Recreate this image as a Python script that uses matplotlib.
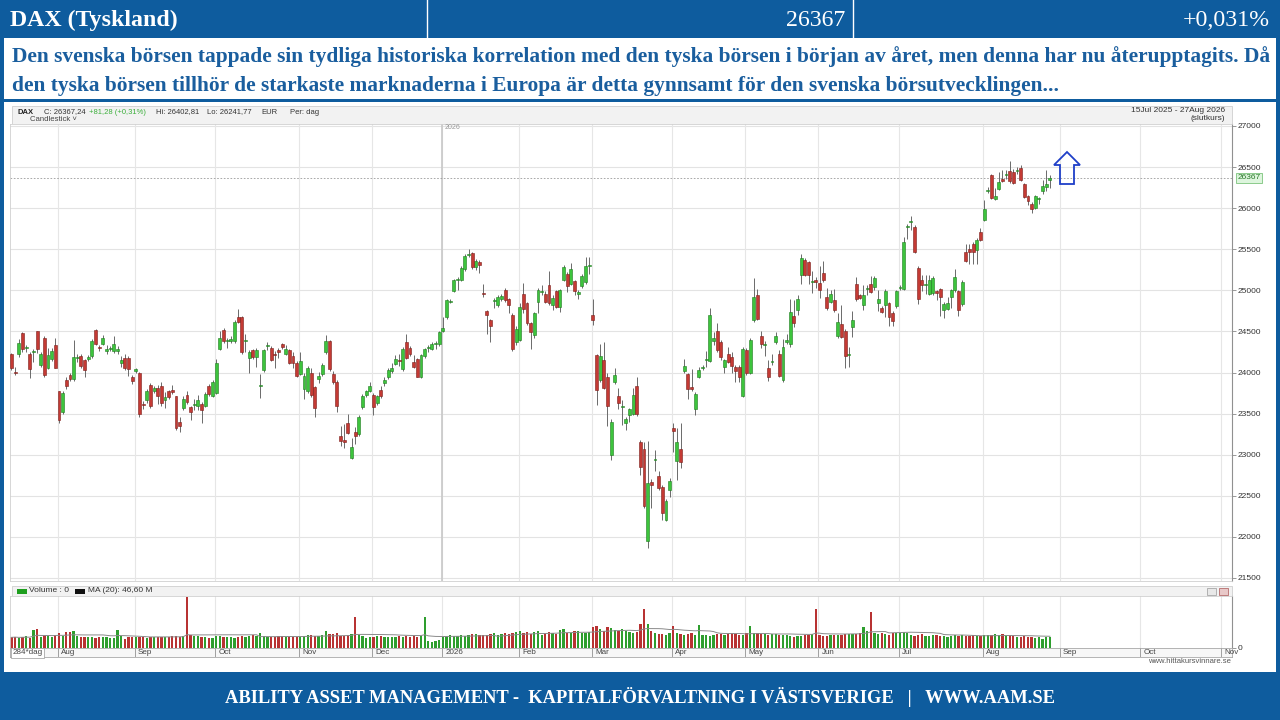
import numpy as np
import pandas as pd
import matplotlib
matplotlib.use("Agg")
import matplotlib.pyplot as plt
from matplotlib.patches import Rectangle, Polygon

# ---------------- data ----------------
opens = [24220, 24010, 24220, 24480, 24300, 24230, 24250, 24500, 24090, 24420,
         24060, 24170, 24340, 23775, 23525, 23910, 23970, 23920, 24180, 24200,
         24150, 24160, 24200, 24520, 24310, 24350, 24260, 24290, 24260, 24260,
         24120, 24180, 24180, 23950, 24020, 24000, 23610, 23670, 23850, 23770,
         23810, 23840, 23660, 23770, 23790, 23710, 23400, 23565, 23730, 23575,
         23610, 23595, 23615, 23595, 23840, 23720, 23755, 24285, 24520, 24380,
         24380, 24380, 24680, 24675, 24380, 24175, 24270, 24185, 23840, 24030,
         24320, 24300, 24220, 24275, 24345, 24230, 24270, 24195, 24120, 23985,
         23800, 23770, 23990, 23820, 23920, 23985, 24245, 24380, 23985, 23890,
         23230, 23180, 23380, 22955, 23280, 23250, 23585, 23730, 23775, 23730,
         23635, 23790, 23870, 23945, 24020, 24100, 24150, 24045, 24370, 24300,
         24130, 24160, 23945, 24200, 24300, 24290, 24350, 24345, 24510, 24670,
         24860, 24995, 25130, 25125, 25255, 25430, 25450, 25280, 25350, 24965,
         24750, 24640, 24870, 24820, 24890, 25010, 24890, 24700, 24370, 24390,
         24960, 24845, 24600, 24455, 24860, 24975, 24960, 25060, 24820, 24990,
         24800, 25130, 25200, 25080, 25110, 24955, 25050, 25100, 25300, 24695,
         24210, 23905, 24150, 23945, 23000, 23890, 23715, 23580, 23380, 23480,
         23500, 23835, 23160, 23075, 21945, 22670, 22940, 22740, 22610, 22205,
         22570, 23320, 22925, 23065, 24020, 23980, 23825, 23550, 23950, 24060,
         24150, 24140, 24385, 24500, 24370, 24070, 24220, 24190, 24070, 24070,
         23710, 24270, 24000, 24635, 24940, 24440, 24340, 24050, 24130, 24370,
         24230, 23905, 24375, 24345, 24685, 24765, 25185, 25370, 25340, 25100,
         25130, 25085, 25205, 24915, 24860, 24880, 24440, 24590, 24505, 24210,
         24550, 25075, 24940, 24820, 25020, 25075, 25035, 24840, 24790, 24820,
         24840, 24725, 24810, 25030, 25020, 25775, 25830, 25770, 25275, 25120,
         25070, 24955, 24965, 24995, 25015, 24755, 24775, 24915, 25000, 24995,
         24830, 25465, 25505, 25560, 25485, 25710, 25860, 26205, 26400, 26115,
         26235, 26355, 26400, 26450, 26440, 26450, 26490, 26290, 26145, 26055,
         26005, 26110, 26210, 26255, 26345]
highs = [24240, 24070, 24410, 24490, 24330, 24250, 24290, 24510, 24250, 24440,
         24300, 24300, 24420, 23780, 23770, 23950, 23990, 24390, 24220, 24230,
         24170, 24210, 24410, 24530, 24340, 24460, 24330, 24320, 24440, 24320,
         24200, 24230, 24200, 23970, 24060, 24010, 23650, 23800, 23870, 23830,
         23850, 23890, 23760, 23790, 23850, 23720, 23460, 23710, 23780, 23590,
         23680, 23725, 23640, 23760, 23860, 23910, 24160, 24510, 24540, 24420,
         24440, 24640, 24770, 24690, 24470, 24280, 24290, 24300, 23980, 24290,
         24370, 24320, 24260, 24300, 24365, 24330, 24290, 24245, 24140, 24245,
         23990, 24080, 24050, 23840, 24010, 24110, 24455, 24400, 24020, 23910,
         23350, 23370, 23500, 23200, 23340, 23480, 23740, 23790, 23890, 23750,
         23730, 23830, 23950, 24050, 24120, 24210, 24225, 24310, 24470, 24320,
         24210, 24180, 24230, 24300, 24330, 24370, 24380, 24510, 24670, 24900,
         24890, 25140, 25160, 25290, 25440, 25500, 25470, 25380, 25370, 25080,
         24760, 24650, 24910, 24940, 24950, 25030, 24910, 24720, 24560, 24840,
         25090, 24860, 24610, 24740, 25030, 25060, 24990, 25230, 24940, 25010,
         25020, 25310, 25220, 25330, 25130, 25000, 25200, 25400, 25410, 24900,
         24230, 24350, 24370, 24000, 23440, 24060, 23810, 23660, 23460, 23570,
         23815, 23940, 23180, 23160, 23170, 22710, 23060, 22800, 22630, 22460,
         22720, 23380, 23320, 23390, 24160, 24000, 24040, 23760, 24070, 24090,
         24260, 24790, 24490, 24600, 24390, 24170, 24310, 24250, 24090, 24090,
         24310, 24300, 24420, 25150, 25020, 24510, 24380, 24150, 24220, 24490,
         24280, 24410, 24470, 24900, 24880, 24945, 25440, 25390, 25360, 25240,
         25160, 25295, 25360, 25030, 25000, 25020, 24725, 24820, 24530, 24310,
         24750, 25160, 24960, 25060, 25060, 25170, 25180, 25000, 24810, 25020,
         24860, 24750, 25010, 25065, 25655, 25810, 25900, 25790, 25290, 25190,
         25190, 25190, 25180, 25010, 25030, 24860, 24920, 25020, 25260, 25010,
         25130, 25560, 25560, 25590, 25640, 25760, 26100, 26260, 26420, 26250,
         26440, 26470, 26460, 26570, 26480, 26500, 26520, 26310, 26160, 26070,
         26160, 26140, 26345, 26460, 26403]
lows = [24030, 23975, 24190, 24250, 24250, 23930, 24130, 24240, 24070, 23940,
        24040, 24140, 24050, 23385, 23500, 23800, 23900, 23900, 24130, 24060,
        23950, 24140, 24180, 24330, 24260, 24330, 24230, 24260, 24240, 24230,
        24070, 24030, 23960, 23860, 24000, 23460, 23560, 23630, 23570, 23750,
        23620, 23590, 23570, 23680, 23740, 23300, 23280, 23540, 23620, 23420,
        23540, 23540, 23390, 23580, 23720, 23700, 23740, 24270, 24360, 24300,
        24360, 24360, 24600, 24230, 24250, 24000, 24160, 24070, 23690, 24010,
        24280, 24140, 24050, 24180, 24290, 24210, 24100, 24050, 23940, 23970,
        23680, 23750, 23700, 23460, 23870, 23960, 24230, 24020, 23860, 23525,
        23100, 23080, 23250, 22945, 23130, 23230, 23560, 23700, 23760, 23480,
        23610, 23690, 23840, 23920, 24000, 24090, 24080, 24020, 24160, 24200,
        24050, 23940, 23930, 24180, 24250, 24270, 24290, 24320, 24490, 24650,
        24840, 24980, 25010, 25110, 25230, 25410, 25260, 25250, 25210, 24920,
        24470, 24370, 24780, 24800, 24870, 24860, 24720, 24260, 24340, 24380,
        24720, 24580, 24290, 24420, 24730, 24940, 24840, 24820, 24760, 24780,
        24740, 25110, 24980, 25060, 24940, 24890, 25030, 25080, 25200, 24580,
        23600, 23880, 23800, 23350, 22930, 23860, 23550, 23360, 23300, 23400,
        23480, 23470, 22750, 22350, 21860, 22350, 22800, 22570, 22200, 22190,
        22490, 23030, 22690, 22840, 23990, 23680, 23780, 23480, 23930, 24030,
        24070, 24130, 24340, 24250, 24150, 23990, 24110, 23990, 23880, 23890,
        23700, 23970, 23980, 24610, 24640, 24300, 24200, 23900, 24090, 24345,
        23945, 23890, 24350, 24310, 24550, 24700, 25080, 25170, 25080, 24970,
        25030, 24910, 25100, 24760, 24840, 24740, 24425, 24420, 24050, 24070,
        24430, 24870, 24890, 24760, 24940, 24970, 25010, 24750, 24720, 24680,
        24560, 24560, 24790, 25000, 25000, 25620, 25730, 25450, 24835, 24990,
        24960, 24940, 24940, 24880, 24690, 24660, 24760, 24780, 24980, 24690,
        24810, 25340, 25315, 25320, 25320, 25600, 25840, 26180, 26110, 26100,
        26220, 26320, 26360, 26310, 26290, 26420, 26330, 26120, 26040, 25940,
        25990, 26050, 26170, 26210, 26242]
closes = [24060, 24000, 24360, 24290, 24310, 24040, 24260, 24290, 24220, 23970,
          24210, 24260, 24060, 23425, 23745, 23840, 23920, 24190, 24185, 24080,
          24030, 24190, 24380, 24350, 24300, 24420, 24290, 24300, 24350, 24290,
          24150, 24050, 24040, 23900, 24040, 23490, 23600, 23770, 23590, 23810,
          23710, 23630, 23700, 23700, 23760, 23320, 23350, 23675, 23640, 23525,
          23615, 23665, 23540, 23740, 23740, 23880, 24115, 24420, 24380, 24385,
          24410, 24610, 24620, 24250, 24385, 24245, 24185, 24275, 23845, 24270,
          24340, 24155, 24215, 24245, 24310, 24285, 24120, 24120, 23960, 24135,
          23960, 24050, 23730, 23565, 23960, 24095, 24385, 24040, 23880, 23595,
          23170, 23150, 23270, 23090, 23230, 23460, 23720, 23770, 23840, 23585,
          23710, 23710, 23910, 24030, 24050, 24170, 24140, 24290, 24180, 24220,
          24070, 23945, 24210, 24290, 24310, 24345, 24355, 24495, 24545, 24880,
          24870, 25125, 25135, 25270, 25420, 25435, 25280, 25360, 25305, 24960,
          24705, 24565, 24875, 24915, 24930, 24880, 24820, 24290, 24535, 24800,
          24775, 24600, 24495, 24725, 25010, 24980, 24860, 24840, 24910, 24800,
          25000, 25285, 25050, 25260, 24990, 24980, 25180, 25300, 25305, 24635,
          23785, 24200, 23815, 23590, 23400, 23970, 23630, 23585, 23440, 23550,
          23725, 23495, 22845, 22370, 22650, 22630, 22945, 22600, 22295, 22440,
          22680, 23290, 23155, 22915, 24080, 23805, 23805, 23735, 24035, 24065,
          24160, 24705, 24420, 24270, 24190, 24150, 24130, 24075, 24020, 23950,
          24290, 23990, 24400, 24920, 24655, 24345, 24345, 23950, 24135, 24450,
          23955, 24310, 24400, 24740, 24605, 24890, 25390, 25185, 25185, 25105,
          25105, 25005, 25125, 24790, 24955, 24760, 24615, 24435, 24200, 24215,
          24640, 24890, 24910, 24940, 25025, 24985, 25145, 24890, 24740, 24995,
          24670, 24630, 24995, 25035, 25585, 25780, 25835, 25465, 24895, 25070,
          25075, 25120, 25150, 24965, 24915, 24835, 24845, 25005, 25160, 24755,
          25100, 25355, 25465, 25465, 25615, 25615, 25995, 26210, 26125, 26145,
          26315, 26330, 26405, 26330, 26305, 26455, 26345, 26135, 26085, 25990,
          26145, 26115, 26265, 26295, 26367]
volume_m = [44, 46, 42, 45, 48, 43, 75, 78, 46, 52, 50, 47, 55,
            62, 50, 65, 66, 72, 48, 46, 44, 47, 45, 43, 46, 44, 45, 42, 40, 75, 48, 38, 44, 46,
            44, 46, 45, 43, 44, 46, 45, 44, 47, 45, 48, 50, 46, 48, 210, 52, 50, 48, 46, 44, 40, 42,
            50, 48, 46, 44, 45, 40, 46, 48, 45, 50, 52, 48, 62, 50, 46, 45, 44, 48, 50, 46, 45, 47, 44,
            46, 50, 52, 55, 48, 50, 52, 70, 58, 56, 60, 50, 48, 55, 58, 127, 52, 48, 40, 45,
            46, 50, 48, 46, 44, 46, 45, 48, 47, 50, 46, 48, 45, 50, 130, 30, 25, 28, 32,
            45, 50, 52, 50, 48, 52, 50, 55, 58, 56, 55, 52, 54, 58, 60, 55, 58, 62, 56, 60, 65,
            70, 62, 65, 58, 66, 72, 55, 60, 68, 62, 58, 75, 78, 62, 60, 72, 70, 64, 60, 68,
            85, 92, 78, 70, 88, 82, 75, 70, 80, 72, 65, 60, 68, 100, 160, 100, 70, 60, 58, 56, 55, 60,
            90, 62, 58, 55, 56, 60, 54, 94, 55, 52, 50, 55, 56, 58, 54, 56, 60, 58, 54, 52,
            60, 91, 62, 60, 58, 56, 55, 58, 56, 54, 55, 52, 50, 45, 48, 50, 55, 52, 58, 160,
            52, 50, 50, 52, 54, 52, 55, 56, 58, 56, 58, 62, 87, 70, 150, 62, 58, 60, 56, 52, 62, 60,
            60, 66, 62, 55, 48, 52, 56, 50, 48, 52, 55, 48, 50, 46, 48, 52, 50, 55, 48, 50, 52, 50, 48,
            52, 55, 54, 56, 55, 56, 54, 52, 48, 44, 45, 48, 46, 45, 40, 44, 38, 44, 46]
month_ticks = [13, 34, 56, 79, 99, 118, 139, 159, 181, 201, 221, 243, 266, 287, 309, 331]
month_labels = ['Aug', 'Sep', 'Oct', 'Nov', 'Dec', '2026', 'Feb', 'Mar', 'Apr', 'May',
                'Jun', 'Jul', 'Aug', 'Sep', 'Oct', 'Nov']
price_ticks = [21500, 22000, 22500, 23000, 23500, 24000, 24500, 25000, 25500, 26000, 26500, 27000]
last_close = 26367
year_start = 118

title_left = 'DAX (Tyskland)'
title_mid = '26367'
title_right = '+0,031%'
comment_lines = [
    'Den svenska börsen tappade sin tydliga historiska korrelation med den tyska börsen i början av året, men denna har nu återupptagits. Då',
    'den tyska börsen tillhör de starkaste marknaderna i Europa är detta gynnsamt för den svenska börsutvecklingen...',
]
footer = 'ABILITY ASSET MANAGEMENT -  KAPITALFÖRVALTNING I VÄSTSVERIGE   |   WWW.AAM.SE'

# ---------------- figure ----------------
W, H = 1280, 720
fig = plt.figure(figsize=(W / 100, H / 100), dpi=100)
BLUE = '#0E5C9E'
TXTBLUE = '#1A5E9E'
fig.patch.set_facecolor(BLUE)
SERIF = ['Liberation Serif', 'DejaVu Serif']
SANS = ['Liberation Sans', 'DejaVu Sans']


def fx(px):
    return px / W


def fy(py):
    return 1 - py / H


def frect(x0, y0, x1, y1, z=-5, **kw):
    fig.add_artist(Rectangle((fx(x0), fy(y1)), (x1 - x0) / W, (y1 - y0) / H,
                             transform=fig.transFigure, zorder=z, **kw))


def px_axes(x0, y0, x1, y1):
    return fig.add_axes([fx(x0), fy(y1), (x1 - x0) / W, (y1 - y0) / H])


# white panels
frect(4, 38, 1276, 99, facecolor='white', edgecolor='none')
frect(4, 102, 1276, 672, facecolor='white', edgecolor='none')

# header
fig.text(fx(10), fy(20), title_left, color='white', fontsize=17.2, fontweight='bold',
         family=SERIF, va='center', ha='left')
fig.text(fx(845), fy(20), title_mid, color='white', fontsize=17.2,
         family=SERIF, va='center', ha='right')
fig.text(fx(1270), fy(20), title_right, color='white', fontsize=17.2,
         family=SERIF, va='center', ha='right')
for sx in (427, 853):
    fig.add_artist(plt.Line2D([fx(sx), fx(sx)], [fy(0), fy(37)], color='white', lw=1,
                              transform=fig.transFigure))

fig.text(fx(12), fy(57), comment_lines[0], color=TXTBLUE, fontsize=15.4, fontweight='bold',
         family=SERIF, va='center', ha='left')
fig.text(fx(12), fy(86), comment_lines[1], color=TXTBLUE, fontsize=15.4, fontweight='bold',
         family=SERIF, va='center', ha='left')

fig.text(fx(640), fy(697), footer, color='white', fontsize=13.3, fontweight='bold',
         family=SERIF, va='center', ha='center')

# ---------------- price chart ----------------
o = np.array(opens, float)
h = np.array(highs, float)
l = np.array(lows, float)
c = np.array(closes, float)
v = np.array(volume_m, float)
N = len(c)
xi = np.arange(N)
up = c >= o
GREEN = '#3DC43D'
GREEN_E = '#1E7A1E'
RED = '#C43A34'
RED_E = '#7A1E1A'
XL = (-0.4, 333.8)

# chart header strip
frect(12, 106, 1232, 124, z=-4, facecolor='#F2F2F2', edgecolor='#CFCFCF', lw=0.6)
hdr = [(17, 'DAX', '#222', 'bold'), (44, 'C: 26367,24', '#333', 'normal'),
       (89, '+81,28 (+0,31%)', '#3CAF3C', 'normal'), (156, 'Hi: 26402,81', '#333', 'normal'),
       (207, 'Lo: 26241,77', '#333', 'normal'), (261, 'EUR', '#333', 'normal'),
       (290, 'Per: dag', '#333', 'normal')]
for hx, ht, hc, hw in hdr:
    fig.text(fx(hx), fy(112), ht, fontsize=5.5, fontweight=hw, family=SANS, va='center',
             color=hc)
fig.text(fx(30), fy(119.5), 'Candlestick \u02c5', fontsize=5.6, family=SANS, va='center',
         color='#444')
fig.text(fx(1225), fy(111), '15Jul 2025 - 27Aug 2026', fontsize=6, family=SANS, va='center',
         ha='right', color='#333')
fig.text(fx(1225), fy(118.5), '(slutkurs)', fontsize=6, family=SANS, va='center',
         ha='right', color='#333')

ax = px_axes(10, 124, 1232, 581)
ax.set_xlim(*XL)
ax.set_ylim(21463, 27024)
ax.set_facecolor('white')
for t in price_ticks:
    ax.axhline(t, color='#E3E3E3', lw=0.8, zorder=0)
for mt in month_ticks:
    ax.axvline(mt - 0.3, color='#E6E6E6', lw=0.8, zorder=0)
ax.axvline(year_start - 0.3, color='#C8C8C8', lw=1.2, zorder=0)
ax.text(year_start + 2.7, 26980, '2026', fontsize=5, color='#999', family=SANS,
        ha='center', va='center')

ax.vlines(xi, l, h, color='#6A6A6A', lw=0.7, zorder=2)
body_lo = np.minimum(o, c)
body_h = np.maximum(np.abs(c - o), 12)
ax.bar(xi[up], body_h[up], bottom=body_lo[up], width=0.8, color=GREEN,
       edgecolor=GREEN_E, lw=0.4, zorder=3)
ax.bar(xi[~up], body_h[~up], bottom=body_lo[~up], width=0.8, color=RED,
       edgecolor=RED_E, lw=0.4, zorder=3)

ax.axhline(last_close, color='#9A9A9A', lw=0.6, ls=(0, (2, 2)), zorder=1)

ax.yaxis.tick_right()
ax.set_yticks(price_ticks)
ax.set_yticklabels([str(t) for t in price_ticks], fontsize=6, color='#333', family=SANS)
ax.tick_params(axis='y', length=3, width=0.6, color='#888', pad=1)
ax.set_xticks([])
for s in ('left', 'top', 'bottom'):
    ax.spines[s].set_color('#D0D0D0')
    ax.spines[s].set_linewidth(0.6)
ax.spines['right'].set_color('#909090')
ax.spines['right'].set_linewidth(0.8)

# last price label
ax.annotate(str(last_close), xy=(1.0, last_close), xycoords=('axes fraction', 'data'),
            xytext=(4, 0), textcoords='offset points', fontsize=6, color='#2A7A2A',
            family=SANS, va='center', ha='left',
            bbox=dict(boxstyle='square,pad=0.2', fc='#DDF5DD', ec='#7CC47C', lw=0.6))

# blue up-arrow annotation (figure pixel coords)
arrow_px = [(1067, 152), (1080, 165), (1074, 165), (1074, 184), (1060, 184), (1060, 165), (1054, 165)]
fig.add_artist(Polygon([(fx(px), fy(py)) for px, py in arrow_px], closed=True, fill=False,
                       edgecolor='#1F3FC8', lw=1.3, transform=fig.transFigure, zorder=5))

# ---------------- volume ----------------
frect(12, 586, 1232, 596, z=-4, facecolor='#F2F2F2', edgecolor='#CFCFCF', lw=0.6)
frect(17, 588.5, 27, 593.5, z=5, facecolor='#1E9E1E', edgecolor='none')
fig.text(fx(29), fy(591), 'Volume : 0', fontsize=6, family=SANS, va='center', color='#333')
frect(75, 588.5, 85, 593.5, z=5, facecolor='#111', edgecolor='none')
fig.text(fx(88), fy(591), 'MA (20): 46,60 M', fontsize=6, family=SANS, va='center', color='#333')
frect(1207, 587.5, 1216, 594.5, z=5, facecolor='#E8E8E8', edgecolor='#999', lw=0.5)
frect(1219, 587.5, 1228, 594.5, z=5, facecolor='#E8C8C8', edgecolor='#A55', lw=0.5)

axv = px_axes(10, 596, 1232, 648)
axv.set_xlim(*XL)
axv.set_ylim(0, 215)
for mt in month_ticks:
    axv.axvline(mt - 0.3, color='#E6E6E6', lw=0.8, zorder=0)
axv.bar(xi[up], v[up], width=0.62, color='#2E9E2E', edgecolor='none', zorder=2)
axv.bar(xi[~up], v[~up], width=0.62, color='#B83232', edgecolor='none', zorder=2)
ma20 = pd.Series(v).rolling(20, min_periods=1).mean()
axv.plot(xi, ma20, color='#8A8A8A', lw=0.7, zorder=3)
axv.set_xticks([])
axv.yaxis.tick_right()
axv.set_yticks([0])
axv.set_yticklabels(['0'], fontsize=6, color='#333', family=SANS)
axv.tick_params(axis='y', length=3, width=0.6, color='#888', pad=1)
for s in ('left', 'top', 'bottom'):
    axv.spines[s].set_color('#D0D0D0')
    axv.spines[s].set_linewidth(0.6)
axv.spines['right'].set_color('#909090')

# month strip
axm = px_axes(10, 648, 1232, 657)
axm.set_xlim(*XL)
axm.set_ylim(0, 1)
axm.set_facecolor('#F7F7F7')
for mt, lab in zip(month_ticks, month_labels):
    axm.axvline(mt - 0.3, color='#A0A0A0', lw=0.7)
    axm.text(mt + 0.6, 0.45, lab, fontsize=5.8, color='#444', family=SANS, va='center', ha='left')
axm.text(0.3, 0.45, '284*dag', fontsize=5.8, color='#444', family=SANS, va='center', ha='left',
         bbox=dict(boxstyle='square,pad=0.15', fc='white', ec='#999', lw=0.5))
axm.set_xticks([])
axm.set_yticks([])
for s in axm.spines.values():
    s.set_color('#A8A8A8')
    s.set_linewidth(0.6)

fig.text(fx(1231), fy(661.5), 'www.hittakursvinnare.se', fontsize=5.5, family=SANS,
         va='center', ha='right', color='#555')

fig.savefig('out.png', dpi=100, facecolor=fig.get_facecolor())
